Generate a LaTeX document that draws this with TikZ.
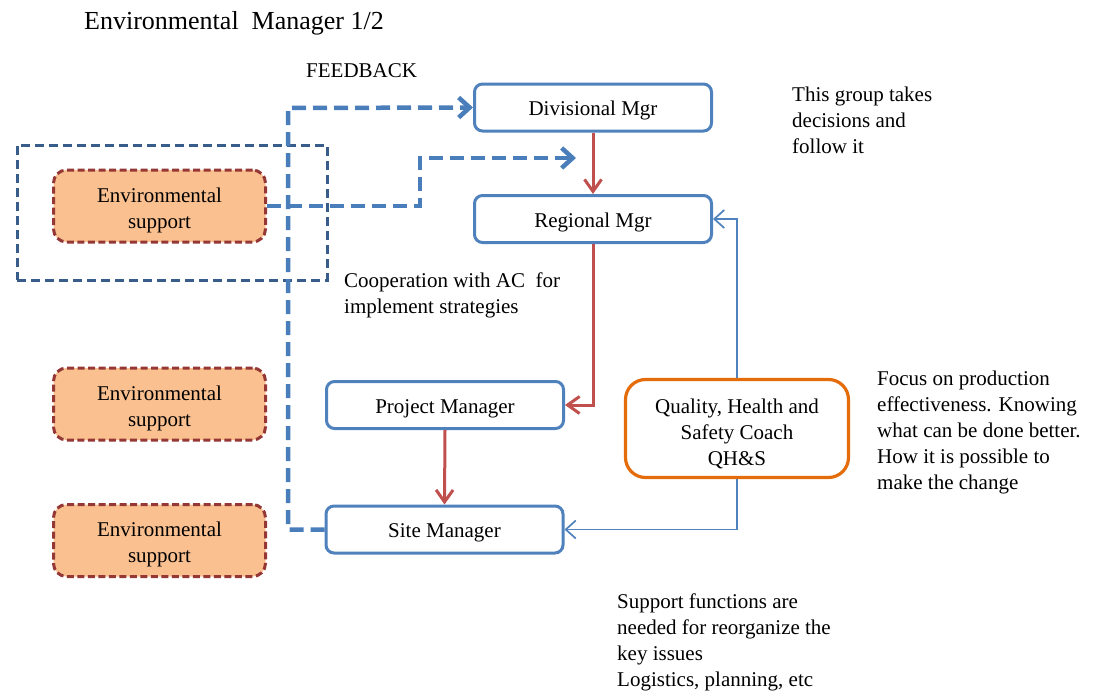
\documentclass[tikz,border=0pt]{standalone}
\usepackage{fontspec}
\setmainfont{Liberation Serif}
\usetikzlibrary{arrows.meta}
\definecolor{boxblue}{HTML}{4F81BD}
\definecolor{fbblue}{HTML}{4A7EBB}
\definecolor{frameblue}{HTML}{385D8A}
\definecolor{chainred}{HTML}{C0504D}
\definecolor{coachorange}{HTML}{E46C0A}
\definecolor{supportfill}{HTML}{FAC090}
\definecolor{supportedge}{HTML}{953735}
\tikzset{
  body/.style={font=\fontsize{21}{26}\selectfont},
  mgrbox/.style={body, draw=boxblue, line width=3pt, rounded corners=8pt,
    fill=white, minimum width=237pt, minimum height=47pt, inner sep=0pt,
    text height=16pt, text depth=0pt},
  supportbox/.style={draw=supportedge, fill=supportfill, line width=3pt,
    dash pattern=on 7pt off 3.5pt, rounded corners=13pt, minimum width=212pt,
    minimum height=72pt, inner sep=0pt},
  coachbox/.style={draw=coachorange, line width=3.2pt, rounded corners=20pt,
    fill=white, minimum width=223pt, minimum height=98pt, inner sep=0pt},
  boxtext/.style={body, align=center, inner sep=0pt},
  framebox/.style={draw=frameblue, line width=3pt, dash pattern=on 9pt off 5pt,
    minimum width=310pt, minimum height=135pt, inner sep=0pt},
  note/.style={body, align=left, anchor=north west, inner sep=0pt},
  fbline/.style={draw=fbblue, line width=4.5pt, dash pattern=on 14pt off 7pt,
    -{Straight Barb[length=11pt,width=20pt,line width=4.5pt]}},
  chain/.style={draw=chainred, line width=3pt,
    -{Straight Barb[length=12pt,width=17pt,line width=3pt]}},
  coachline/.style={draw=boxblue, line width=1.7pt,
    -{Straight Barb[length=10pt,width=18pt,line width=1.7pt]}},
}
\begin{document}
\begin{tikzpicture}[x=1pt,y=-1pt]
\useasboundingbox (0,0) rectangle (1096,696);

% heading and label
\node[anchor=base west, inner sep=0pt, font=\fontsize{26}{30}\selectfont] (title) at (84,30) {Environmental\ \ Manager 1/2};
\node[anchor=base west, inner sep=0pt, body] (fbtext) at (306,77) {FEEDBACK};

% support group frame
\node[framebox] (frame) at (172,212.5) {};

% environmental support boxes
\node[supportbox] (env1) at (159.5,206) {};
\node[supportbox] (env2) at (159.5,404) {};
\node[supportbox] (env3) at (159.5,540.5) {};
\node[boxtext] (env1t) at ([yshift=-4pt]env1.center) {Environmental\\support};
\node[boxtext] (env2t) at ([yshift=-4pt]env2.center) {Environmental\\support};
\node[boxtext] (env3t) at ([yshift=-4pt]env3.center) {Environmental\\support};

% management chain
\node[mgrbox] (div) at (593,107.5) {Divisional Mgr};
\node[mgrbox] (reg) at (593,219) {Regional Mgr};
\node[mgrbox] (pm) at (445,405) {Project Manager};
\node[mgrbox] (site) at (444.5,529.5) {Site Manager};

% coach
\node[coachbox] (qhs) at (737,428.5) {};
\node[boxtext] (qhst) at ([yshift=-5pt]qhs.center) {Quality, Health and\\Safety Coach\\QH\&S};

% notes
\node[note] (n1) at (792,87) {This group takes\\decisions and\\follow it};
\node[note] (n2) at (344,273) {Cooperation with AC\ \ for\\implement strategies};
\node[note] (n3) at (877,371) {Focus on production\\effectiveness. Knowing\\what can be done better.\\How it is possible to\\make the change};
\node[note] (n4) at (617,594) {Support functions are\\needed for reorganize the\\key issues\\Logistics, planning, etc};

% feedback lines
\coordinate (bend1) at (420,158);
\coordinate (fbtip) at (576,158);
\coordinate (fbx) at (288,108);
\draw[fbline] (env1.east) -| (bend1) -- (fbtip);
\draw[fbline] (site.west) -| (fbx) -- (div.west);

% chain arrows
\draw[chain] (div.south) -- (reg.north);
\draw[chain] (reg.south) |- (pm.east);
\draw[chain] (pm.south) -- (site.north);

% coach links
\draw[coachline] (qhs.north) |- (reg.east);
\draw[coachline] (qhs.south) |- (site.east);
\end{tikzpicture}
\end{document}
